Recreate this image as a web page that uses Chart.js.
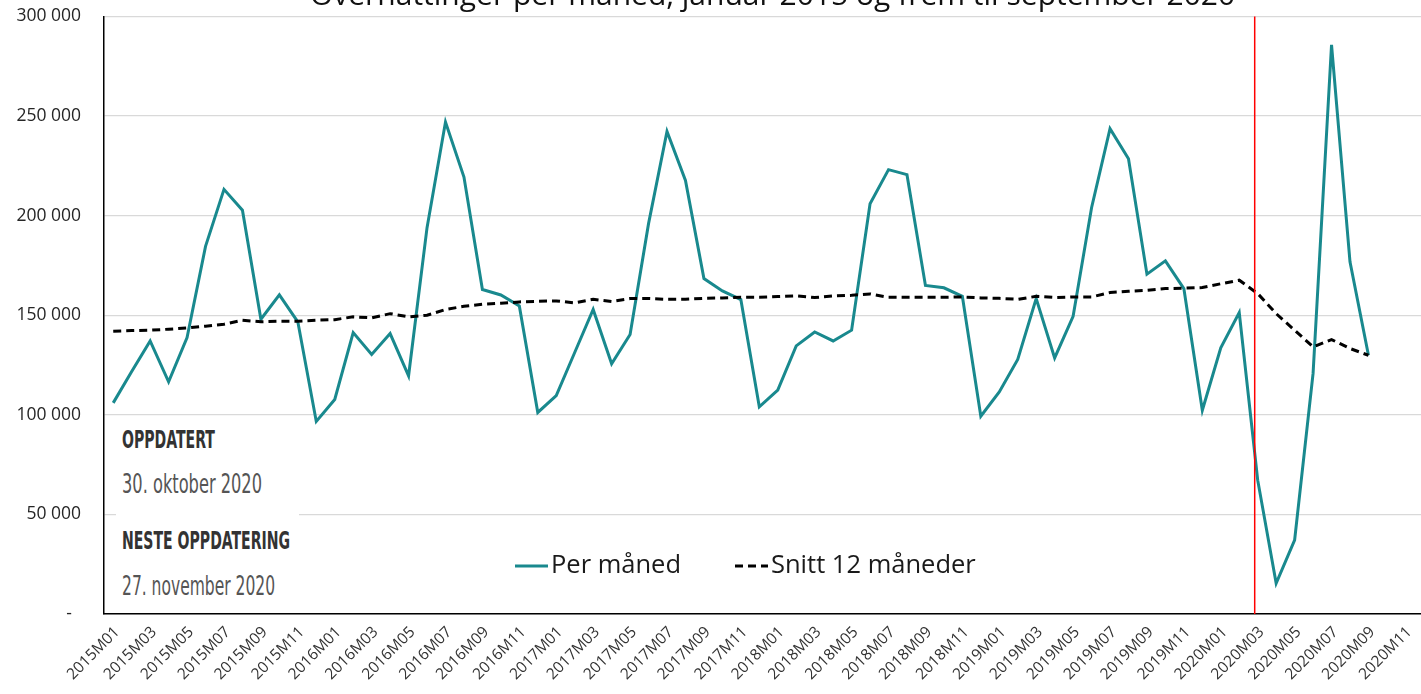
<!DOCTYPE html>
<html lang="no">
<head>
<meta charset="utf-8">
<title>Overnattinger per måned</title>
<script src="https://cdn.jsdelivr.net/npm/chart.js@4.4.1/dist/chart.umd.min.js"></script>
<style>
  html, body { margin: 0; padding: 0; background: #fff; overflow: hidden; }
  #wrap { position: relative; width: 1446px; height: 694px; overflow: hidden; }
  #c { position: absolute; left: 0; top: -17px; }
  #info { position: absolute; left: 116px; top: 420px; width: 183px; height: 190px; background: #fff; }
  .it { position: absolute; left: 6px; white-space: nowrap; transform-origin: 0 0;
        font-family: "Liberation Sans Narrow", "DejaVu Sans Condensed", "Liberation Sans", sans-serif; }
  .b { font-weight: bold; color: #333333; font-size: 25px; }
  .r { font-weight: normal; color: #555555; font-size: 26px; }
</style>
</head>
<body>
<div id="wrap">
  <canvas id="c" width="1446" height="711"></canvas>
  <div id="info">
    <div class="it b" data-w="93" data-top="432">OPPDATERT</div>
    <div class="it r" data-w="140" data-top="476">30. oktober 2020</div>
    <div class="it b" data-w="168" data-top="533">NESTE OPPDATERING</div>
    <div class="it r" data-w="153" data-top="578">27. november 2020</div>
  </div>
</div>
<script>
const TITLE = 'Overnattinger per måned, januar 2015 og frem til september 2020';

const categories = [
  '2015M01','2015M02','2015M03','2015M04','2015M05','2015M06','2015M07','2015M08','2015M09','2015M10','2015M11','2015M12',
  '2016M01','2016M02','2016M03','2016M04','2016M05','2016M06','2016M07','2016M08','2016M09','2016M10','2016M11','2016M12',
  '2017M01','2017M02','2017M03','2017M04','2017M05','2017M06','2017M07','2017M08','2017M09','2017M10','2017M11','2017M12',
  '2018M01','2018M02','2018M03','2018M04','2018M05','2018M06','2018M07','2018M08','2018M09','2018M10','2018M11','2018M12',
  '2019M01','2019M02','2019M03','2019M04','2019M05','2019M06','2019M07','2019M08','2019M09','2019M10','2019M11','2019M12',
  '2020M01','2020M02','2020M03','2020M04','2020M05','2020M06','2020M07','2020M08','2020M09','2020M10','2020M11','2020M12'
];

const perManed = [
  106000, 121800, 137100, 116600, 138800, 184600, 213200, 202700, 148000, 160200, 146700, 96700,
  107700, 141300, 130300, 140800, 119600, 194000, 247000, 219400, 162900, 160200, 154700, 101200,
  109700, 131300, 152900, 125600, 140300, 196000, 242300, 217700, 168400, 162200, 157900, 104000,
  112400, 134600, 141600, 137100, 142500, 206000, 223100, 220600, 165000, 163800, 159500, 99300,
  111500, 127800, 158400, 128600, 149500, 204000, 243700, 228600, 170600, 177300, 163400, 102300,
  133600, 151400, 67200, 15400, 37100, 120800, 285800, 176800, 129900, null, null, null
];

const snitt12 = [
  142000, 142300, 142500, 143000, 143600, 144500, 145500, 147500, 146700, 147000, 147000, 147500,
  147800, 149200, 148700, 150800, 149200, 150000, 152900, 154500, 155500, 156000, 156700, 157000,
  157200, 156200, 158000, 156900, 158400, 158400, 158000, 158000, 158500, 158700, 159000, 159000,
  159400, 159700, 158900, 159700, 160000, 160700, 159000, 159000, 159000, 159000, 159200, 158700,
  158500, 158000, 159500, 158900, 159200, 159200, 161400, 162000, 162500, 163400, 163600, 163900,
  165800, 167600, 160900, 150800, 142500, 134100, 137800, 133300, 129900, null, null, null
];

const seriesNames = ['Per måned', 'Snitt 12 måneder'];
const markerCategory = '2020M03';
const yMin = 0, yMax = 300000, yStep = 50000;

const TEAL = '#19898e';
const FONT = '"Open Sans", "Liberation Sans", sans-serif';
const SHIFT = 17; // canvas is shifted up by this many px

function fmt(v) {
  if (v === 0) return '-  ';
  return String(v).replace(/\B(?=(\d{3})+(?!\d))/g, ' ');
}

const titlePlugin = {
  id: 'cutTitle',
  afterDraw(chart) {
    const ctx = chart.ctx, a = chart.chartArea;
    ctx.save();
    ctx.font = '30px ' + FONT;
    ctx.fillStyle = '#111';
    ctx.textAlign = 'center';
    ctx.textBaseline = 'alphabetic';
    ctx.fillText(TITLE, (a.left + a.right) / 2 + 4, 5 + SHIFT);
    ctx.restore();
  }
};

const markerPlugin = {
  id: 'marker',
  afterDatasetsDraw(chart) {
    const ctx = chart.ctx, a = chart.chartArea;
    const x = chart.scales.x.getPixelForValue(categories.indexOf(markerCategory)) - 3;
    ctx.save();
    ctx.strokeStyle = '#ff0000';
    ctx.lineWidth = 1.5;
    ctx.beginPath();
    ctx.moveTo(x, a.top);
    ctx.lineTo(x, a.bottom);
    ctx.stroke();
    ctx.restore();
  }
};

const legendPlugin = {
  id: 'innerLegend',
  afterDraw(chart) {
    const ctx = chart.ctx;
    const starts = [515, 735];
    const y = 566 + SHIFT;
    ctx.save();
    chart.data.datasets.forEach((ds, i) => {
      const x0 = starts[i];
      ctx.strokeStyle = ds.borderColor;
      ctx.lineWidth = 3;
      ctx.setLineDash(ds.borderDash || []);
      ctx.beginPath();
      ctx.moveTo(x0, y);
      ctx.lineTo(x0 + 33, y);
      ctx.stroke();
      ctx.setLineDash([]);
      ctx.font = '25.5px ' + FONT;
      ctx.fillStyle = '#1a1a1a';
      ctx.textAlign = 'left';
      ctx.textBaseline = 'middle';
      ctx.fillText(ds.label, x0 + 36, y);
    });
    ctx.restore();
  }
};

new Chart(document.getElementById('c'), {
  type: 'line',
  data: {
    labels: categories,
    datasets: [
      { label: seriesNames[0], data: perManed, borderColor: TEAL, backgroundColor: TEAL,
        borderWidth: 3, pointRadius: 0, tension: 0, order: 1 },
      { label: seriesNames[1], data: snitt12, borderColor: '#000000', backgroundColor: '#000000',
        borderWidth: 3, borderDash: [8, 5], pointRadius: 0, tension: 0, order: 0 }
    ]
  },
  options: {
    responsive: false,
    animation: false,
    devicePixelRatio: 1,
    layout: { padding: { top: 0, right: 2, bottom: 0, left: 0 } },
    plugins: {
      legend: { display: false },
      title: { display: false },
      tooltip: { enabled: false }
    },
    scales: {
      x: {
        type: 'category',
        offset: true,
        grid: { display: false, drawTicks: false },
        border: { display: true, color: '#000000', width: 1.5 },
        ticks: {
          autoSkip: false,
          maxRotation: 45,
          minRotation: 45,
          padding: 9,
          labelOffset: 4,
          color: '#333333',
          font: { family: FONT, size: 15.5 },
          callback: (v, i) => (i % 2 === 0 ? categories[i] : '')
        },
        afterFit(scale) { scale.height = 80; }
      },
      y: {
        min: yMin,
        max: yMax,
        grid: { color: '#d9d9d9', lineWidth: 1.3, drawTicks: false },
        border: { display: true, color: '#000000', width: 1.5 },
        ticks: {
          stepSize: yStep,
          padding: 23,
          color: '#262626',
          font: { family: FONT, size: 17.5 },
          callback: (v) => fmt(v)
        },
        afterFit(scale) { scale.width = 104; }
      }
    }
  },
  plugins: [titlePlugin, markerPlugin, legendPlugin]
});

// fit the condensed info texts to their measured widths
document.querySelectorAll('#info .it').forEach(el => {
  const w = el.getBoundingClientRect().width;
  const sx = parseFloat(el.dataset.w) / w;
  const topAbs = parseFloat(el.dataset.top);
  const fs = parseFloat(getComputedStyle(el).fontSize);
  el.style.top = (topAbs - 420 - fs * 0.28) + 'px';
  el.style.transform = 'scaleX(' + sx.toFixed(3) + ')';
});
</script>
</body>
</html>
